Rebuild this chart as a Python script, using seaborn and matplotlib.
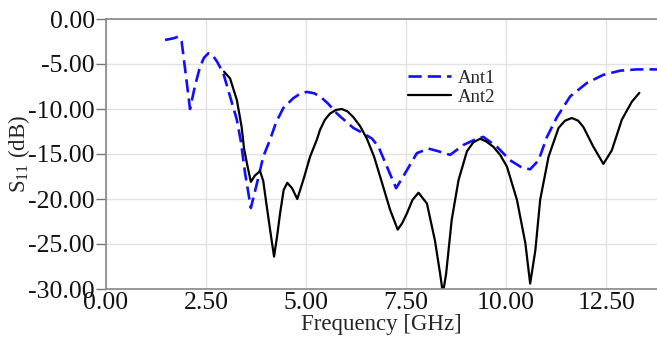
import matplotlib
matplotlib.use("Agg")
import matplotlib.pyplot as plt
import seaborn as sns
import pandas as pd

# ---- data ----
ant1_freq = [1.475, 1.68, 1.81, 1.89, 1.98, 2.10, 2.22, 2.35, 2.45, 2.56, 2.66, 2.77,
             2.93, 3.10, 3.27, 3.37, 3.475, 3.62, 3.77, 3.93, 4.10, 4.25, 4.43, 4.68,
             4.85, 5.02, 5.20, 5.35, 5.55, 5.77, 6.00, 6.18, 6.43, 6.65, 6.81, 7.02,
             7.25, 7.48, 7.77, 8.06, 8.31, 8.60, 8.93, 9.27, 9.43, 9.77, 10.10, 10.39,
             10.60, 10.81, 11.02, 11.27, 11.60, 12.02, 12.43, 12.85, 13.27, 13.77]
ant1_s11 = [-2.33, -2.15, -1.96, -2.5, -5.67, -10.0, -7.5, -5.3, -4.3, -3.8, -4.0, -4.7,
            -6.0, -8.6, -11.2, -13.6, -17.1, -21.0, -18.3, -15.3, -13.4, -11.5, -9.9, -8.8,
            -8.3, -8.1, -8.25, -8.6, -9.4, -10.5, -11.4, -12.1, -12.7, -13.3, -14.2, -16.4,
            -18.8, -17.1, -14.9, -14.4, -14.7, -15.1, -14.0, -13.3, -13.1, -14.2, -15.7, -16.5,
            -16.7, -15.7, -13.1, -10.9, -8.6, -7.1, -6.2, -5.74, -5.6, -5.6]

ant2_freq = [2.95, 3.10, 3.27, 3.39, 3.45, 3.52, 3.62, 3.72, 3.85, 3.93, 4.02, 4.12,
             4.20, 4.28, 4.35, 4.44, 4.53, 4.65, 4.78, 4.93, 5.10, 5.27, 5.35, 5.47,
             5.60, 5.75, 5.89, 6.03, 6.18, 6.35, 6.52, 6.70, 6.85, 7.10, 7.29, 7.40,
             7.52, 7.66, 7.81, 8.02, 8.22, 8.35, 8.42, 8.50, 8.64, 8.81, 9.02, 9.18,
             9.35, 9.50, 9.68, 9.85, 10.02, 10.27, 10.48, 10.60, 10.73, 10.85, 11.06,
             11.31, 11.47, 11.64, 11.80, 11.93, 12.18, 12.43, 12.64, 12.89, 13.14, 13.33]
ant2_s11 = [-5.85, -6.6, -9.0, -12.0, -14.4, -16.0, -18.1, -17.4, -16.9, -18.0, -20.9, -24.0,
            -26.4, -24.0, -21.6, -19.0, -18.2, -18.8, -20.0, -17.9, -15.3, -13.4, -12.3, -11.2,
            -10.5, -10.1, -10.0, -10.25, -10.9, -11.9, -13.3, -15.3, -17.5, -21.2, -23.4, -22.7,
            -21.6, -20.1, -19.3, -20.5, -24.6, -28.3, -30.5, -28.3, -22.3, -17.9, -14.7, -13.7,
            -13.3, -13.6, -14.2, -15.1, -16.4, -20.1, -24.9, -29.4, -25.7, -20.1, -15.3,
            -12.1, -11.3, -11.0, -11.3, -12.0, -14.2, -16.1, -14.6, -11.2, -9.2, -8.2]

x_ticks = [0.0, 2.5, 5.0, 7.5, 10.0, 12.5]
y_ticks = [0.0, -5.0, -10.0, -15.0, -20.0, -25.0, -30.0]

df1 = pd.DataFrame({"f": ant1_freq, "s": ant1_s11})
df2 = pd.DataFrame({"f": ant2_freq, "s": ant2_s11})

sns.set_style("whitegrid")
plt.rcParams["font.family"] = ["Liberation Serif", "DejaVu Serif"]
plt.rcParams["mathtext.fontset"] = "custom"
plt.rcParams["mathtext.rm"] = "Liberation Serif"

fig = plt.figure(figsize=(6.57, 3.42), dpi=100)
ax = fig.add_axes([106 / 657, 1 - 289 / 342, 1 - 106 / 657, (289 - 19) / 342])

sns.lineplot(data=df1, x="f", y="s", ax=ax, sort=False, color="#1010ff",
             linewidth=1.9, label="Ant1")
sns.lineplot(data=df2, x="f", y="s", ax=ax, sort=False, color="black",
             linewidth=1.6, label="Ant2")
ax.lines[0].set_dashes([5, 2.3])

ax.set_xlim(0, 13.77)
ax.set_ylim(-30, 0)
ax.set_xticks(x_ticks)
ax.set_yticks(y_ticks)
ax.set_xticklabels([f"{v:.2f}" for v in x_ticks])
ax.set_yticklabels([f"{v:.2f}" for v in y_ticks])
ax.tick_params(axis="both", labelsize=18.5, colors="#111111")
ax.tick_params(axis="x", length=0, pad=2)
ax.tick_params(axis="y", length=7, width=1, color="#777777", pad=1, left=True)

ax.grid(True, color="#e2e2e2", linewidth=1.0)
for side in ["top", "left", "bottom"]:
    ax.spines[side].set_visible(True)
    ax.spines[side].set_color("#888888")
    ax.spines[side].set_linewidth(1.2)
ax.spines["right"].set_visible(False)

ax.set_xlabel("Frequency [GHz]", fontsize=16.5, labelpad=0)
ax.set_ylabel("S$_{11}$ (dB)", fontsize=16.5)
ax.yaxis.set_label_coords(-0.135, 0.5)

leg = ax.legend(loc="center left", bbox_to_anchor=(0.517, 0.745), frameon=False,
                fontsize=13.5, handlelength=2.3, handletextpad=0.35,
                labelspacing=0.1)

fig.savefig("out.png", dpi=100)
